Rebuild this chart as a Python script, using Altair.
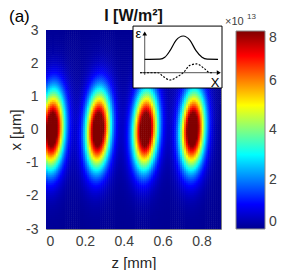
import altair as alt
import numpy as np
import pandas as pd

# ---- main map parameters ----
spot_z = [0.031, 0.268, 0.511, 0.754]   # mm, spot centres along z
spot_x = [0.0, 0.0, 0.0, 0.0]           # um, spot centres along x
peak = 9.5                               # x1e13 W/m^2 (saturates colour scale)
sig_x = 1.1                              # um
sig_z = 0.06                             # mm
tilt = 0.007                             # mm per um
halo_amp = 0.3
halo_sx = 2.4
halo_sz = 0.11

z_ticks = [0, 0.2, 0.4, 0.6, 0.8]
x_ticks = [-3, -2, -1, 0, 1, 2, 3]
cbar_ticks = [0, 2, 4, 6, 8]
jet_stops = [0, 1, 3, 5, 7, 8]
jet_colors = ["#00008f", "#0000ff", "#00ffff", "#ffff00", "#ff0000", "#800000"]

# ---- inset sketch (inset units) ----
solid_u = [0.59, 2.5, 3.1, 3.75, 4.5, 5.4, 6.25, 7.0, 7.75, 8.4, 9.75]
solid_v = [0.365, 0.37, 0.42, 0.6, 0.88, 1.0, 0.88, 0.6, 0.42, 0.37, 0.365]
dash_u = [0.0, 2.25, 2.9, 3.75, 4.6, 5.4, 6.25, 7.1, 8.0, 8.75, 9.1]
dash_v = [0.0, 0.0, -0.1, -0.2, -0.12, 0.0, 0.2, 0.24, 0.12, 0.0, 0.0]
axes_u = [0.0, 9.6, 0.59, 0.59]
axes_v = [0.0, 0.0, -0.06, 1.05]
axes_seg = ["h", "h", "v", "v"]
arrow_u = [9.85, 0.59]
arrow_v = [0.0, 1.07]
arrow_shape = ["triangle-right", "triangle-up"]
box_u = [-0.875, 10.25]
box_v = [-0.417, 1.27]
lab_u = [-0.19, 9.4]
lab_v = [1.05, -0.28]
lab_t = ["ε", "X"]

# ---- build intensity grid ----
nz, nx = 90, 100
dzc, dxc = 0.9 / nz, 6.0 / nx
zc = (np.arange(nz) + 0.5) * dzc
xc = -3 + (np.arange(nx) + 0.5) * dxc
Z, X = np.meshgrid(zc, xc)
I = np.zeros_like(Z)
for z0, x0 in zip(spot_z, spot_x):
    dz = (Z - z0 - tilt * (X - x0)) / sig_z
    dx = (X - x0) / sig_x
    I += peak * np.exp(-(dz ** 2 + dx ** 2))
    I += halo_amp * np.exp(-((X - x0) / halo_sx) ** 2 - ((Z - z0) / halo_sz) ** 2)
I = np.clip(I, 0, 8)
df = pd.DataFrame({
    "z0": (Z - dzc / 2).ravel(), "z1": (Z + dzc * 0.75).ravel(),
    "x0": (X - dxc / 2).ravel(), "x1": (X + dxc * 0.75).ravel(),
    "I": I.ravel(),
})

lab_col = "#404040"
heat = alt.Chart(df).mark_rect(clip=True).encode(
    x=alt.X("z0:Q", scale=alt.Scale(domain=[0, 0.9], nice=False, zero=False),
            axis=alt.Axis(values=z_ticks, format="~g", title="z [mm]", grid=False, ticks=False,
                          domain=False, labelPadding=5, titlePadding=7)),
    x2="z1:Q",
    y=alt.Y("x0:Q", scale=alt.Scale(domain=[-3, 3], nice=False, zero=False),
            axis=alt.Axis(values=x_ticks, labelExpr="toString(datum.value)", title="x [μm]",
                          grid=False, ticks=False, domain=False, labelPadding=8, titlePadding=2)),
    y2="x1:Q",
    color=alt.Color("I:Q",
                    scale=alt.Scale(domain=jet_stops, range=jet_colors, interpolate="rgb", clamp=True),
                    legend=alt.Legend(orient="none", legendX=190, legendY=1, direction="vertical",
                                      gradientLength=198, gradientThickness=29, title=None,
                                      values=cbar_ticks, labelFontSize=14, labelColor=lab_col,
                                      labelOffset=4, labelBaseline="middle", labelOverlap=False,
                                      gradientStrokeColor="#888888", gradientStrokeWidth=1, padding=0)),
)

ix = alt.Scale(domain=[0, 10], range=[94, 174], nice=False, zero=False)
iy = alt.Scale(domain=[0, 1], range=[42.7, 6], nice=False, zero=False)

box = alt.Chart(pd.DataFrame({"u0": [box_u[0]], "u1": [box_u[1]], "v0": [box_v[0]], "v1": [box_v[1]]})).mark_rect(
    fill="white", stroke="black", strokeWidth=1).encode(
    x=alt.X("u0:Q", scale=ix, axis=None), x2="u1:Q",
    y=alt.Y("v0:Q", scale=iy, axis=None), y2="v1:Q")

axes_l = alt.Chart(pd.DataFrame({"u": axes_u, "v": axes_v, "s": axes_seg})).mark_line(
    color="#555555", strokeWidth=1).encode(
    x=alt.X("u:Q", scale=ix, axis=None), y=alt.Y("v:Q", scale=iy, axis=None), detail="s:N")

arrows = alt.Chart(pd.DataFrame({"u": arrow_u, "v": arrow_v, "sh": arrow_shape})).mark_point(
    filled=True, color="black", size=22, opacity=1).encode(
    x=alt.X("u:Q", scale=ix, axis=None), y=alt.Y("v:Q", scale=iy, axis=None),
    shape=alt.Shape("sh:N", scale=None, legend=None))

solid = alt.Chart(pd.DataFrame({"u": solid_u, "v": solid_v})).mark_line(
    color="black", strokeWidth=1.2, interpolate="monotone").encode(
    x=alt.X("u:Q", scale=ix, axis=None), y=alt.Y("v:Q", scale=iy, axis=None))

dashed = alt.Chart(pd.DataFrame({"u": dash_u, "v": dash_v})).mark_line(
    color="black", strokeWidth=1.1, strokeDash=[2, 1.5], interpolate="monotone").encode(
    x=alt.X("u:Q", scale=ix, axis=None), y=alt.Y("v:Q", scale=iy, axis=None))

labels = alt.Chart(pd.DataFrame({"u": lab_u, "v": lab_v, "t": lab_t})).mark_text(
    fontSize=13, color="black", align="center", baseline="middle").encode(
    x=alt.X("u:Q", scale=ix, axis=None), y=alt.Y("v:Q", scale=iy, axis=None), text="t:N")

panel = alt.Chart(pd.DataFrame({"t": ["(a)"]})).mark_text(
    fontSize=17, color="black", align="left", baseline="alphabetic").encode(
    x=alt.value(-37), y=alt.value(-8), text="t:N")

title = alt.Chart(pd.DataFrame({"t": ["I [W/m²]"]})).mark_text(
    fontSize=16, fontWeight="bold", color="#111111", align="center", baseline="alphabetic").encode(
    x=alt.value(87.5), y=alt.value(-9), text="t:N")

mult = alt.Chart(pd.DataFrame({"t": ["×10"]})).mark_text(
    fontSize=11, color=lab_col, align="left", baseline="alphabetic").encode(
    x=alt.value(179), y=alt.value(-5), text="t:N")
mult_e = alt.Chart(pd.DataFrame({"t": ["13"]})).mark_text(
    fontSize=8, color=lab_col, align="left", baseline="alphabetic").encode(
    x=alt.value(201), y=alt.value(-11), text="t:N")

chart = alt.layer(heat, title, box, axes_l, arrows, solid, dashed, labels, panel, mult, mult_e).resolve_scale(
    x="independent", y="independent"
).properties(
    width=175, height=199,
    padding={"left": 38, "top": 22, "right": 64, "bottom": 41},
    autosize=alt.AutoSizeParams(type="none"),
).configure(font="Liberation Sans").configure_view(
    stroke="#7f7f7f", strokeWidth=1
).configure_axis(
    labelFontSize=14, labelColor=lab_col, titleFontSize=15, titleColor="#262626", titleFontWeight="normal"
)

chart.save("out.html", embed_options={"renderer": "svg", "actions": False})
